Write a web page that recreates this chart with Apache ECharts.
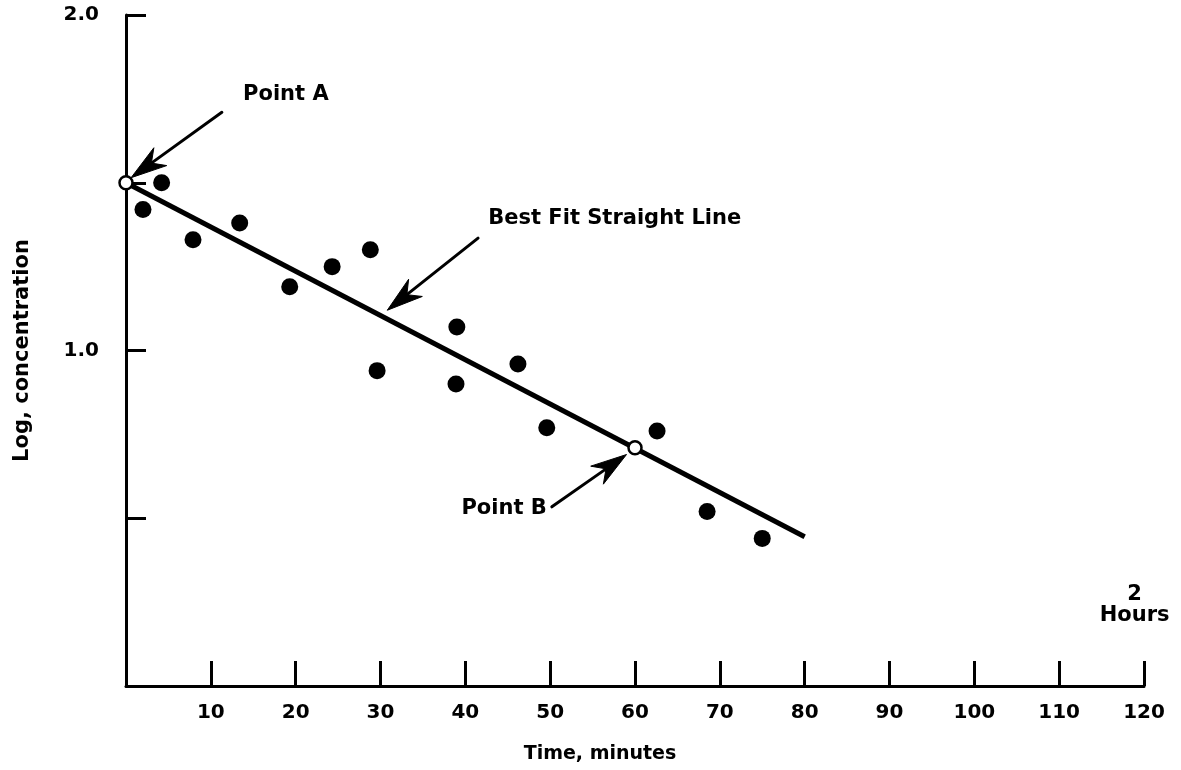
<!DOCTYPE html>
<html>
<head>
<meta charset="utf-8">
<title>Log concentration vs time</title>
<script src="https://cdn.jsdelivr.net/npm/echarts@6/dist/echarts.min.js"></script>
<style>
  html, body { margin: 0; padding: 0; background: #ffffff; }
  #chart { width: 1181px; height: 770px; }
</style>
</head>
<body>
<div id="chart"></div>
<script>
// Measured samples: [time in minutes, log concentration]
const measuredPoints = [
  [2.0, 1.42], [4.2, 1.50], [7.9, 1.33], [13.4, 1.38], [19.3, 1.19],
  [24.3, 1.25], [28.8, 1.30], [29.6, 0.94], [38.9, 0.90], [39.0, 1.07],
  [46.2, 0.96], [49.6, 0.77], [62.6, 0.76], [68.5, 0.52], [75.0, 0.44]
];

// Ends of the fitted straight line
const fitLine = [[0, 1.50], [80, 0.445]];

// Open reference points on the fitted line
const referencePoints = [[0, 1.50], [60, 0.71]];

// Annotation arrows: [tail x, tail y, head x, head y] in axis units
const arrowA = [11.3, 1.71, 0.6, 1.515];
const arrowFit = [41.5, 1.335, 30.8, 1.12];
const arrowB = [50.2, 0.534, 59.0, 0.69];

// Annotation texts and their anchors in axis units
const annotationTexts = ['Point A', 'Best Fit Straight Line', 'Point B', '2\nHours'];
const annotationAnchors = [[13.8, 1.763], [42.7, 1.392], [49.6, 0.528], [118.9, 0.24]];
const annotationSides = ['right', 'right', 'left', 'inside'];

// Axis settings
const xRange = [0, 120];
const xStep = 10;
const yRange = [0, 2];
const yStep = 0.5;
const yLabelled = [1, 2];

const xTitle = 'Time, minutes';
const yTitle = 'Log, concentration';

const FONT = 'DejaVu Sans';
const INK = '#000000';

const chart = echarts.init(document.getElementById('chart'), null, { renderer: 'canvas' });

const annotationData = annotationTexts.map(function (t, i) {
  const side = annotationSides[i];
  return {
    value: annotationAnchors[i],
    label: {
      show: true,
      formatter: t,
      position: side,
      distance: 0,
      align: side === 'right' ? 'left' : (side === 'left' ? 'right' : 'center'),
      verticalAlign: 'middle'
    }
  };
});

// Straight shaft with a long barbed head at the second point
function renderArrow(params, api) {
  const p1 = api.coord([api.value(0), api.value(1)]);
  const p2 = api.coord([api.value(2), api.value(3)]);
  const dx = p2[0] - p1[0], dy = p2[1] - p1[1];
  const len = Math.sqrt(dx * dx + dy * dy);
  const ux = dx / len, uy = dy / len;
  const nx = -uy, ny = ux;
  const headLen = 36, headHalf = 11, notch = 25;
  const back = [p2[0] - ux * headLen, p2[1] - uy * headLen];
  const mid = [p2[0] - ux * notch, p2[1] - uy * notch];
  return {
    type: 'group',
    children: [
      {
        type: 'line',
        shape: { x1: p1[0], y1: p1[1], x2: mid[0], y2: mid[1] },
        style: { stroke: INK, lineWidth: 3, lineCap: 'round' }
      },
      {
        type: 'polygon',
        shape: {
          points: [
            p2,
            [back[0] + nx * headHalf, back[1] + ny * headHalf],
            mid,
            [back[0] - nx * headHalf, back[1] - ny * headHalf]
          ]
        },
        style: { fill: INK, stroke: INK, lineWidth: 1, lineJoin: 'round' }
      }
    ]
  };
}

chart.setOption({
  backgroundColor: '#ffffff',
  animation: false,
  grid: { left: 126, right: 37, top: 15, bottom: 84, containLabel: false },
  xAxis: {
    type: 'value',
    min: xRange[0],
    max: xRange[1],
    interval: xStep,
    splitLine: { show: false },
    axisLine: { show: true, onZero: false, lineStyle: { color: INK, width: 3 } },
    axisTick: { show: true, inside: true, length: 25, lineStyle: { color: INK, width: 3 } },
    axisLabel: {
      show: true,
      showMinLabel: false,
      margin: 17,
      color: INK,
      fontFamily: FONT,
      fontWeight: 'bold',
      fontSize: 20
    },
    name: xTitle,
    nameLocation: 'middle',
    nameGap: 59,
    nameTextStyle: {
      color: INK,
      fontFamily: FONT,
      fontWeight: 'bold',
      fontSize: 19,
      padding: [0, 70, 0, 0]
    }
  },
  yAxis: {
    type: 'value',
    min: yRange[0],
    max: yRange[1],
    interval: yStep,
    splitLine: { show: false },
    axisLine: { show: true, onZero: false, lineStyle: { color: INK, width: 3 } },
    axisTick: { show: true, inside: true, length: 20, lineStyle: { color: INK, width: 3 } },
    axisLabel: {
      show: true,
      margin: 27,
      color: INK,
      fontFamily: FONT,
      fontWeight: 'bold',
      fontSize: 20,
      formatter: function (v) {
        return yLabelled.indexOf(v) >= 0 ? v.toFixed(1) : '';
      }
    },
    name: yTitle,
    nameLocation: 'middle',
    nameRotate: 90,
    nameGap: 93,
    nameTextStyle: {
      color: INK,
      fontFamily: FONT,
      fontWeight: 'bold',
      fontSize: 21
    }
  },
  series: [
    {
      name: 'Best fit',
      type: 'line',
      data: fitLine,
      symbol: 'none',
      lineStyle: { color: INK, width: 5, opacity: 1 },
      z: 3
    },
    {
      name: 'Samples',
      type: 'scatter',
      data: measuredPoints,
      symbol: 'circle',
      symbolSize: 17,
      itemStyle: { color: INK, opacity: 1 },
      z: 4
    },
    {
      name: 'Reference points',
      type: 'scatter',
      data: referencePoints,
      symbol: 'circle',
      symbolSize: 13,
      itemStyle: { color: '#ffffff', borderColor: INK, borderWidth: 2.5, opacity: 1 },
      z: 6
    },
    {
      name: 'Arrows',
      type: 'custom',
      coordinateSystem: 'cartesian2d',
      data: [arrowA, arrowFit, arrowB],
      renderItem: renderArrow,
      silent: true,
      z: 5
    },
    {
      name: 'Annotations',
      type: 'scatter',
      data: annotationData,
      symbolSize: 0,
      itemStyle: { color: INK, opacity: 1 },
      label: {
        color: INK,
        fontFamily: FONT,
        fontWeight: 'bold',
        fontSize: 21,
        lineHeight: 21
      },
      silent: true,
      z: 7
    }
  ]
});
</script>
</body>
</html>
